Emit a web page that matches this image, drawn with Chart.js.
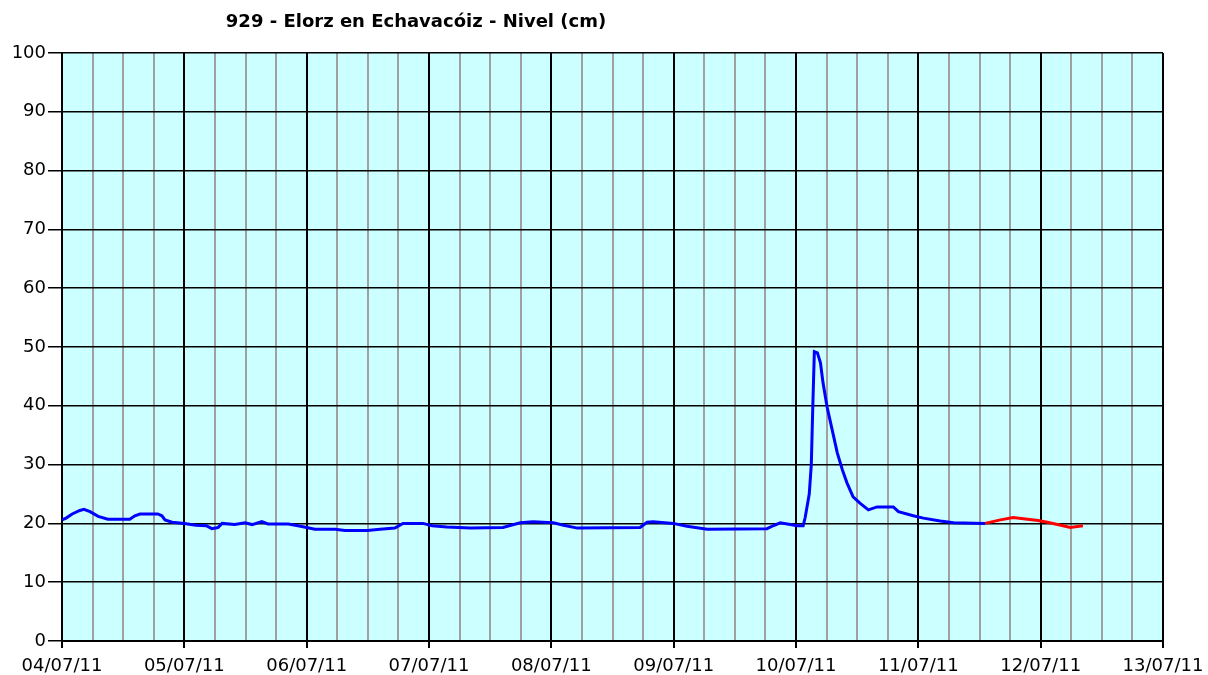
<!DOCTYPE html>
<html>
<head>
<meta charset="utf-8">
<script src="https://cdn.jsdelivr.net/npm/chart.js@4/dist/chart.umd.min.js"></script>
<style>
html,body{margin:0;padding:0;background:#fff;}
#wrap{position:relative;width:1208px;height:675px;}
</style>
</head>
<body>
<div id="wrap"><canvas id="c" width="1208" height="675"></canvas></div>
<script>
const chartTitle = "929 - Elorz en Echavacóiz - Nivel (cm)";
const dayLabels = ["04/07/11","05/07/11","06/07/11","07/07/11","08/07/11","09/07/11","10/07/11","11/07/11","12/07/11","13/07/11"];
// hours since 04/07/11 00:00
const obsHours = [0,0.8,2.0,3.5,4.3,5.5,7.1,9.0,13.3,14.3,15.3,18.8,19.6,20.2,21.6,24,26.3,28.3,29.4,30.6,31.4,33.9,35.9,37.3,39.2,40.4,44.4,46.3,48,49.6,53.6,55.5,59.9,62.4,65.3,66.9,70.8,72.6,75.5,80.1,86.5,89.9,92.4,96.4,98.4,101.1,113.4,114.8,116.0,119.9,122.6,126.6,138.3,139.5,140.9,142.9,144.2,145.4,145.8,146.6,147.0,147.3,147.6,148.2,148.8,149.3,150.1,151.1,152.1,153.1,154.0,155.2,156.6,158.2,159.9,163.1,164.1,167.0,169.0,172.3,174.9,181.1];
const obsLevel = [20.6,20.9,21.6,22.2,22.4,22.0,21.2,20.7,20.7,21.3,21.6,21.6,21.3,20.6,20.2,20.0,19.7,19.6,19.1,19.3,20.0,19.8,20.1,19.8,20.3,19.9,19.9,19.6,19.3,19.0,19.0,18.8,18.8,19.0,19.2,20.0,20.0,19.6,19.4,19.2,19.3,20.1,20.3,20.1,19.7,19.2,19.3,20.2,20.3,20.0,19.5,19.0,19.1,19.6,20.1,19.8,19.6,19.6,21.0,25.0,30.0,40.0,49.2,49.0,47.3,43.9,39.8,35.9,32.0,29.1,26.9,24.5,23.4,22.3,22.8,22.8,22.0,21.3,20.9,20.4,20.1,20.0];
const fcHours = [181.1,184.1,186.6,188.6,191.5,193.3,196.4,197.8,200.3];
const fcLevel = [20.0,20.6,21.0,20.8,20.5,20.2,19.6,19.3,19.6];
const yTicks = [0,10,20,30,40,50,60,70,80,90,100];

const FONT = "'DejaVu Sans', Verdana, sans-serif";

const bgPlugin = {
  id: 'bg',
  beforeDraw(chart) {
    const {ctx, chartArea: a} = chart;
    ctx.save();
    ctx.fillStyle = '#ccffff';
    ctx.fillRect(a.left, a.top, a.right - a.left, a.bottom - a.top);
    ctx.restore();
  },
  afterDraw(chart) {
    const ctx = chart.ctx;
    ctx.save();
    ctx.font = "bold 18px " + FONT;
    ctx.fillStyle = '#000';
    ctx.textAlign = 'center';
    ctx.textBaseline = 'middle';
    ctx.fillText(chartTitle, 416, 22);
    ctx.restore();
  }
};

const isDay = c => c.tick && c.tick.value % 24 === 0;

new Chart(document.getElementById('c'), {
  type: 'line',
  data: {
    datasets: [
      { data: obsHours.map((h,i)=>({x:h,y:obsLevel[i]})), borderColor:'#0000ff', borderWidth:3, pointRadius:0, tension:0, fill:false },
      { data: fcHours.map((h,i)=>({x:h,y:fcLevel[i]})), borderColor:'#ff0000', borderWidth:3, pointRadius:0, tension:0, fill:false }
    ]
  },
  options: {
    responsive: false,
    animation: false,
    events: [],
    layout: { padding: { top: 53, right: 45, left: 0, bottom: 0 } },
    plugins: { legend: { display: false }, tooltip: { enabled: false }, title: { display: false } },
    scales: {
      x: {
        type: 'linear', min: 0, max: 216,
        afterFit(s) { s.height = 34; s.paddingLeft = 0; s.paddingRight = 0; },
        border: { display: true, color: '#000', width: 2 },
        grid: {
          color: c => isDay(c) ? '#000000' : '#a0a0a0',
          lineWidth: 2,
          tickLength: 7,
          tickColor: c => isDay(c) ? '#000000' : 'rgba(0,0,0,0)'
        },
        ticks: {
          stepSize: 6, autoSkip: false, maxRotation: 0, minRotation: 0,
          color: '#000', font: { family: FONT, size: 18 }, padding: 8,
          callback: v => (v % 24 === 0) ? dayLabels[v/24] : ''
        }
      },
      y: {
        min: 0, max: 100,
        afterFit(s) { s.width = 62; s.paddingTop = 0; s.paddingBottom = 0; },
        border: { display: true, color: '#000', width: 2 },
        grid: { color: '#000000', lineWidth: 1.5, tickLength: 14, tickColor: '#000' },
        afterBuildTicks(s) { s.ticks = yTicks.map(v => ({ value: v })); },
        ticks: { color: '#000', font: { family: FONT, size: 18 }, padding: 2 }
      }
    }
  },
  plugins: [bgPlugin]
});
</script>
</body>
</html>
